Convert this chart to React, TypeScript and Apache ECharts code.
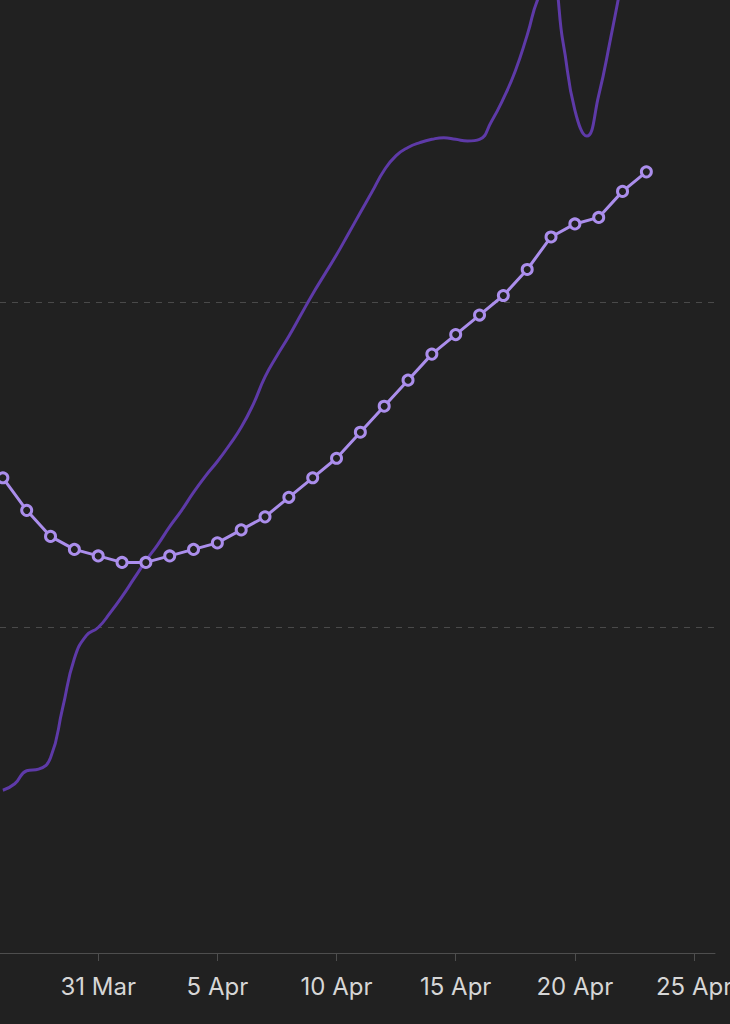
import React, { useEffect, useRef } from "react";
import * as echarts from "echarts";

// Day index 0 = 27 Mar
const dayIndex = [0, 1, 2, 3, 4, 5, 6, 7, 8, 9, 10, 11, 12, 13, 14, 15, 16, 17, 18, 19, 20, 21, 22, 23, 24, 25, 26, 27];
const averageSeries = [146, 136, 128, 124, 122, 120, 120, 122, 124, 126, 130, 134, 140, 146, 152, 160, 168, 176, 184, 190, 196, 202, 210, 220, 224, 226, 234, 240];

// Half-day readings for the darker curve (day index, value)
const dailyDays = [
  0, 0.5, 1, 1.5, 2, 2.5, 3, 3.5, 4, 4.5, 5, 5.5, 6, 6.5, 7, 7.5, 8, 8.5, 9, 9.5,
  10, 10.5, 11, 11.5, 12, 12.5, 13, 13.5, 14, 14.5, 15, 15.5, 16, 16.5, 17, 17.5, 18, 18.5, 19, 19.5,
  20, 20.5, 21, 21.5, 22, 22.5, 23, 23.5, 24, 24.5, 25, 25.5, 26, 26.5, 27,
];
const dailySeries = [
  50, 52, 56, 56.5, 60, 75, 90.5, 97.5, 100, 104.5, 109.5, 115, 120.5, 125.5, 131, 136, 141.5, 146.5, 151, 156,
  161.5, 168.5, 177, 183.5, 189.5, 196, 202.5, 208.5, 214.5, 221, 227.5, 234, 240.5, 245, 247.5, 249, 250, 250.5, 250, 249.5,
  250, 255.5, 262.5, 271, 282, 294, 299, 280, 259, 251, 263.5, 281, 300, 320, 339,
];

const tickDays = [4, 9, 14, 19, 24, 29];
const tickLabels = ["31 Mar", "5 Apr", "10 Apr", "15 Apr", "20 Apr", "25 Apr"];

export default function App() {
  const ref = useRef<HTMLDivElement>(null);
  useEffect(() => {
    if (!ref.current) return;
    const chart = echarts.init(ref.current, null, { renderer: "svg" });
    chart.setOption({
      animation: false,
      backgroundColor: "#212121",
      grid: { left: 0, right: 15, top: 0, bottom: 71, containLabel: false, outerBoundsMode: "none" },
      xAxis: {
        type: "value",
        min: -0.12,
        max: 29.88,
        axisLine: { show: true, lineStyle: { color: "#4e4e4e", width: 1 } },
        axisTick: { show: true, length: 8, customValues: tickDays, lineStyle: { color: "#4e4e4e" } },
        axisLabel: {
          customValues: tickDays,
          color: "#d6d6d6",
          fontSize: 24,
          fontFamily: "Inter",
          margin: 21,
          hideOverlap: false,
          formatter: (v: number) => {
            const i = tickDays.indexOf(Math.round(v));
            return i >= 0 ? tickLabels[i] : "";
          },
        },
        splitLine: { show: false },
      },
      yAxis: {
        type: "value",
        min: 0,
        max: 292.8,
        interval: 100,
        axisLine: { show: false },
        axisTick: { show: false },
        axisLabel: { show: false },
        splitLine: {
          show: true,
          showMinLine: false,
          showMaxLine: false,
          lineStyle: { color: "#4a4a4a", type: [6, 6], width: 1 },
        },
      },
      series: [
        {
          type: "line",
          data: dailyDays.map((d, i) => [d, dailySeries[i]]),
          smooth: true,
          showSymbol: false,
          symbol: "none",
          lineStyle: { color: "#5e3aa8", width: 3 },
          z: 1,
        },
        {
          type: "line",
          data: dayIndex.map((d, i) => [d, averageSeries[i]]),
          smooth: false,
          symbol: "circle",
          symbolSize: 10,
          showSymbol: true,
          lineStyle: { color: "#ab8eec", width: 3 },
          itemStyle: { color: "#212121", borderColor: "#ab8eec", borderWidth: 3 },
          z: 2,
        },
      ],
    });
    return () => chart.dispose();
  }, []);
  return <div ref={ref} style={{ width: 730, height: 1024, position: "fixed", left: 0, top: 0 }} />;
}
